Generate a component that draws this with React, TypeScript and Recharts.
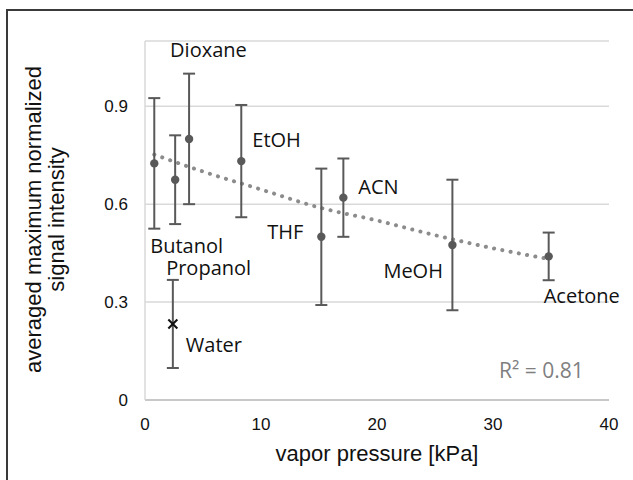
import React from 'react';
import {
  ComposedChart,
  Scatter,
  Line,
  XAxis,
  YAxis,
  CartesianGrid,
  ErrorBar,
  Customized,
} from 'recharts';

// ---- data ----
const solvents = ['Butanol', 'Propanol', 'Dioxane', 'EtOH', 'THF', 'ACN', 'MeOH', 'Acetone'];
const vaporPressure = [0.8, 2.6, 3.8, 8.3, 15.2, 17.1, 26.5, 34.8];
const signalIntensity = [0.725, 0.675, 0.8, 0.732, 0.5, 0.62, 0.475, 0.44];
const signalError = [0.2, 0.136, 0.2, 0.172, 0.209, 0.12, 0.2, 0.073];

const waterNames = ['Water'];
const waterPressure = [2.4];
const waterIntensity = [0.233];
const waterError = [0.135];

const trendPressure = [0.8, 5, 10, 15, 20, 25, 30, 34.8];
const trendIntensity = [0.752, 0.7, 0.645, 0.59, 0.55, 0.505, 0.465, 0.432];

const xTicks = [0, 10, 20, 30, 40];
const yTicks = [0, 0.3, 0.6, 0.9];
const xTitle = 'vapor pressure [kPa]';
const yTitleLines = ['averaged maximum normalized', 'signal intensity'];
const rSquaredText = 'R² = 0.81';

// ---- layout (label offsets from each point, in px) ----
const labelOffsets: Record<string, [number, number]> = {
  Dioxane: [-19, -82],
  EtOH: [11, -14],
  Butanol: [-4, 90],
  Propanol: [-9, 95],
  Water: [13, 28],
  THF: [-54, 2],
  ACN: [15, -4],
  MeOH: [-69, 33],
  Acetone: [-5, 47],
};

const solventData = solvents.map((name, i) => ({
  name,
  x: vaporPressure[i],
  y: signalIntensity[i],
  err: signalError[i],
}));
const waterData = waterNames.map((name, i) => ({
  name,
  x: waterPressure[i],
  y: waterIntensity[i],
  err: waterError[i],
}));
const trendData = trendPressure.map((x, i) => ({ x, y: trendIntensity[i] }));

const LABEL_FONT = '"Open Sans", sans-serif';
const AXIS_FONT = '"Liberation Sans", Arial, sans-serif';

const DotShape = (props: any) => {
  const { cx, cy, payload } = props;
  const off = labelOffsets[payload.name] || [8, 0];
  return (
    <g>
      <circle cx={cx} cy={cy} r={4.2} fill="#595959" />
      <text
        x={cx + off[0]}
        y={cy + off[1]}
        fontFamily={LABEL_FONT}
        fontSize={20}
        fill="#111"
        textAnchor="start"
      >
        {payload.name}
      </text>
    </g>
  );
};

const CrossShape = (props: any) => {
  const { cx, cy, payload } = props;
  const off = labelOffsets[payload.name] || [8, 0];
  const s = 4.5;
  return (
    <g>
      <line x1={cx - s} y1={cy - s} x2={cx + s} y2={cy + s} stroke="#111" strokeWidth={2} />
      <line x1={cx - s} y1={cy + s} x2={cx + s} y2={cy - s} stroke="#111" strokeWidth={2} />
      <text
        x={cx + off[0]}
        y={cy + off[1]}
        fontFamily={LABEL_FONT}
        fontSize={20}
        fill="#111"
        textAnchor="start"
      >
        {payload.name}
      </text>
    </g>
  );
};

const YTitle = (props: any) => {
  const vb = props.viewBox || { x: 0, y: 0, width: 0, height: 0 };
  const cy = vb.y + vb.height / 2 - 1;
  const xs = [41, 64];
  return (
    <g>
      {yTitleLines.map((line, i) => (
        <text
          key={i}
          x={xs[i]}
          y={cy}
          transform={`rotate(-90, ${xs[i]}, ${cy})`}
          textAnchor="middle"
          fontFamily={AXIS_FONT}
          fontSize={22}
          fill="#111"
        >
          {line}
        </text>
      ))}
    </g>
  );
};

const XTitle = (props: any) => {
  const vb = props.viewBox || { x: 0, y: 0, width: 0, height: 0 };
  return (
    <text
      x={vb.x + vb.width / 2}
      y={461}
      textAnchor="middle"
      fontFamily={AXIS_FONT}
      fontSize={22}
      fill="#111"
    >
      {xTitle}
    </text>
  );
};

const RSquared = () => (
  <text x={499} y={378} fontFamily={LABEL_FONT} fontSize={21} fill="#7f7f7f">
    {rSquaredText}
  </text>
);

export default function App() {
  return (
    <div
      style={{
        position: 'absolute',
        left: 0,
        top: 0,
        width: 633,
        height: 480,
        overflow: 'hidden',
        background: '#fff',
      }}
    >
      <div
        style={{
          position: 'absolute',
          left: 6,
          top: 9,
          width: 800,
          height: 700,
          borderTop: '2px solid #3a3a3a',
          borderLeft: '2px solid #3a3a3a',
        }}
      />
      <div style={{ position: 'absolute', left: 0, top: 0 }}>
        <ComposedChart
          width={633}
          height={480}
          margin={{ top: 41, right: 24, bottom: 40, left: 85 }}
        >
          <CartesianGrid vertical={false} stroke="#d9d9d9" strokeWidth={1.5} />
          <XAxis
            type="number"
            dataKey="x"
            domain={[0, 40]}
            ticks={xTicks}
            height={40}
            tickLine={false}
            tickSize={0}
            tickMargin={18}
            axisLine={{ stroke: '#bfbfbf', strokeWidth: 1.5 }}
            tick={{ fontFamily: AXIS_FONT, fontSize: 17, fill: '#111' }}
            label={<XTitle />}
          />
          <YAxis
            type="number"
            dataKey="y"
            domain={[0, 1.1]}
            ticks={yTicks}
            width={60}
            tickLine={false}
            tickSize={0}
            tickMargin={17}
            axisLine={{ stroke: '#d9d9d9', strokeWidth: 1.5 }}
            tick={{ fontFamily: AXIS_FONT, fontSize: 17, fill: '#111' }}
            label={<YTitle />}
          />
          <Line
            data={trendData}
            dataKey="y"
            type="monotone"
            stroke="#8c8c8c"
            strokeWidth={4}
            strokeDasharray="0.1 8.3"
            strokeLinecap="round"
            dot={false}
            activeDot={false}
            isAnimationActive={false}
          />
          <Scatter data={solventData} dataKey="y" shape={<DotShape />} isAnimationActive={false}>
            <ErrorBar dataKey="err" direction="y" width={6} stroke="#595959" strokeWidth={2} />
          </Scatter>
          <Scatter data={waterData} dataKey="y" shape={<CrossShape />} isAnimationActive={false}>
            <ErrorBar dataKey="err" direction="y" width={6} stroke="#595959" strokeWidth={2} />
          </Scatter>
          <Customized component={RSquared} />
        </ComposedChart>
      </div>
    </div>
  );
}
